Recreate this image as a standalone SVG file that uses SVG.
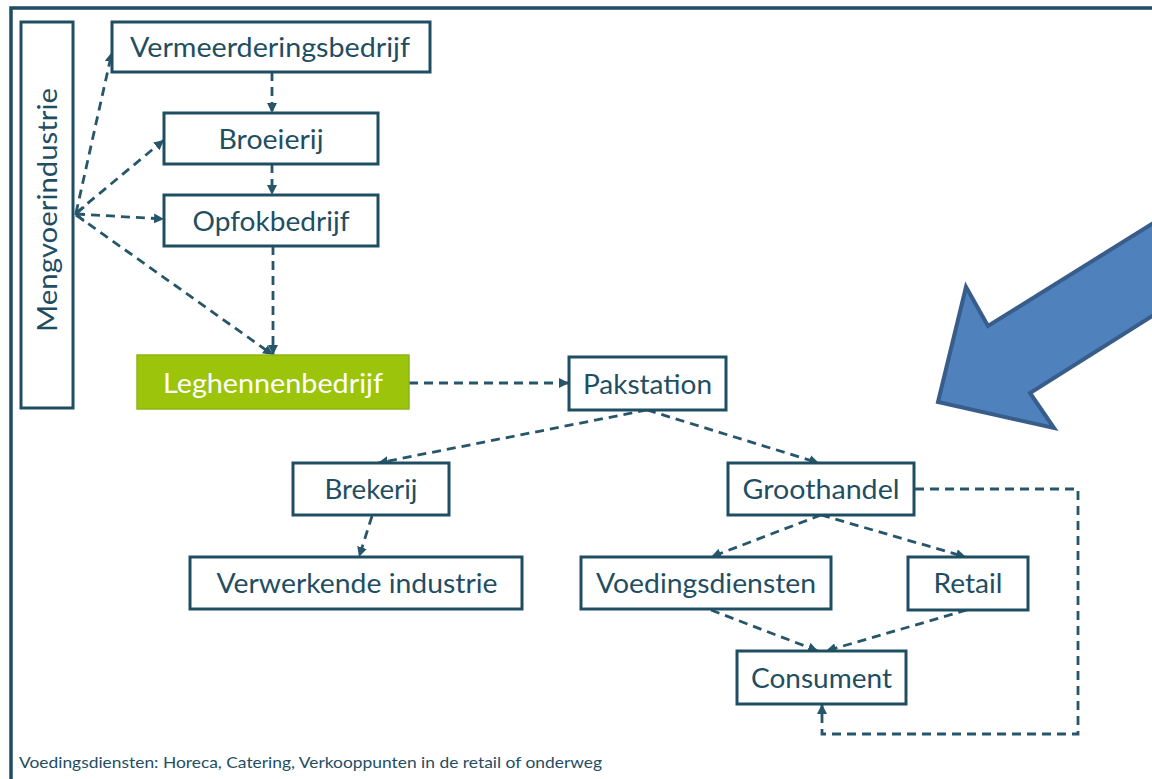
<svg xmlns="http://www.w3.org/2000/svg" width="1152" height="779" viewBox="0 0 1152 779">
<style>
.box{fill:#ffffff;stroke:#1f4e63;stroke-width:3}
.lbl{font-family:Lato,"Open Sans","Liberation Sans",sans-serif;font-size:27px;fill:#1f4e63;text-anchor:middle}
.con{fill:none;stroke:#27566b;stroke-width:2.8;stroke-dasharray:9 6}
.foot{font-family:Lato,"Open Sans","Liberation Sans",sans-serif;font-size:15px;fill:#1f4e63}
</style>
<defs>
<marker id="ah" viewBox="0 0 10 10" refX="10" refY="5" markerWidth="10" markerHeight="10" markerUnits="userSpaceOnUse" orient="auto">
<path d="M0,0 L10,5 L0,10 z" fill="#27566b"/>
</marker>
</defs>
<rect x="0" y="0" width="1152" height="779" fill="#ffffff"/>
<rect x="11" y="8" width="1200" height="900" fill="none" stroke="#1f4e63" stroke-width="3.5"/>

<g id="blue-arrow">
<polygon points="938,402 966,287 988,326 1200,194 1200,286 1030,393 1054,428" fill="#4f81bd" stroke="#385d8a" stroke-width="4" stroke-linejoin="miter"/>
</g>

<g id="connectors">
<line class="con" x1="76" y1="213" x2="112" y2="52" marker-end="url(#ah)"/>
<line class="con" x1="76" y1="213" x2="164" y2="140" marker-end="url(#ah)"/>
<line class="con" x1="76" y1="214" x2="164" y2="219" marker-end="url(#ah)"/>
<line class="con" x1="76" y1="215" x2="273" y2="355" marker-end="url(#ah)"/>
<polyline points="84,207 76,214 84,221" fill="none" stroke="#27566b" stroke-width="2.5"/>
<line class="con" x1="272" y1="72" x2="272" y2="113" marker-end="url(#ah)"/>
<line class="con" x1="272" y1="164" x2="272" y2="195" marker-end="url(#ah)"/>
<line class="con" x1="273" y1="246" x2="273" y2="355" marker-end="url(#ah)"/>
<line class="con" x1="409" y1="383" x2="569" y2="383" marker-end="url(#ah)"/>
<line class="con" x1="647" y1="410" x2="378" y2="463" marker-end="url(#ah)"/>
<line class="con" x1="647" y1="410" x2="819" y2="463" marker-end="url(#ah)"/>
<line class="con" x1="372" y1="516" x2="359" y2="557" marker-end="url(#ah)"/>
<line class="con" x1="821" y1="515" x2="711" y2="557" marker-end="url(#ah)"/>
<line class="con" x1="821" y1="515" x2="966" y2="557" marker-end="url(#ah)"/>
<line class="con" x1="711" y1="610" x2="818" y2="651" marker-end="url(#ah)"/>
<line class="con" x1="967" y1="610" x2="826" y2="651" marker-end="url(#ah)"/>
<polyline class="con" points="915,489 1078,489 1078,734 822,734 822,704" marker-end="url(#ah)"/>
</g>

<g id="mengvoerindustrie">
<rect class="box" x="21" y="22" width="52" height="386"/>
<text class="lbl" transform="translate(57,210) rotate(-90)" x="0" y="0" textLength="244" lengthAdjust="spacingAndGlyphs">Mengvoerindustrie</text>
</g>
<g id="vermeerderingsbedrijf">
<rect class="box" x="112" y="22" width="318" height="50"/>
<text class="lbl" x="270" y="56.5" textLength="280" lengthAdjust="spacingAndGlyphs">Vermeerderingsbedrijf</text>
</g>
<g id="broeierij">
<rect class="box" x="164" y="113" width="214" height="51"/>
<text class="lbl" x="271" y="148.5" textLength="105" lengthAdjust="spacingAndGlyphs">Broeierij</text>
</g>
<g id="opfokbedrijf">
<rect class="box" x="164" y="195" width="214" height="51"/>
<text class="lbl" x="271" y="230.5" textLength="157" lengthAdjust="spacingAndGlyphs">Opfokbedrijf</text>
</g>
<g id="leghennenbedrijf">
<rect x="137" y="355" width="272" height="54" fill="#9bc40a" stroke="#8db51a" stroke-width="1.5"/>
<text class="lbl" x="273" y="392.5" style="fill:#ffffff" textLength="220" lengthAdjust="spacingAndGlyphs">Leghennenbedrijf</text>
</g>
<g id="pakstation">
<rect class="box" x="569" y="357" width="157" height="53"/>
<text class="lbl" x="647.5" y="393.5" textLength="129" lengthAdjust="spacingAndGlyphs">Pakstation</text>
</g>
<g id="brekerij">
<rect class="box" x="293" y="463" width="156" height="52"/>
<text class="lbl" x="371" y="499" textLength="93" lengthAdjust="spacingAndGlyphs">Brekerij</text>
</g>
<g id="verwerkende-industrie">
<rect class="box" x="190" y="557" width="332" height="52"/>
<text class="lbl" x="357" y="593" textLength="281" lengthAdjust="spacingAndGlyphs">Verwerkende industrie</text>
</g>
<g id="groothandel">
<rect class="box" x="728" y="463" width="186" height="52"/>
<text class="lbl" x="821" y="499" textLength="157" lengthAdjust="spacingAndGlyphs">Groothandel</text>
</g>
<g id="voedingsdiensten">
<rect class="box" x="581" y="557" width="250" height="52"/>
<text class="lbl" x="706" y="593" textLength="220" lengthAdjust="spacingAndGlyphs">Voedingsdiensten</text>
</g>
<g id="retail">
<rect class="box" x="908" y="557" width="120" height="53"/>
<text class="lbl" x="968" y="593" textLength="69" lengthAdjust="spacingAndGlyphs">Retail</text>
</g>
<g id="consument">
<rect class="box" x="737" y="651" width="169" height="53"/>
<text class="lbl" x="821.5" y="687.5" textLength="141" lengthAdjust="spacingAndGlyphs">Consument</text>
</g>
<g id="footer">
<text class="foot" x="19" y="768" textLength="583" lengthAdjust="spacingAndGlyphs">Voedingsdiensten: Horeca, Catering, Verkooppunten in de retail of onderweg</text>
</g>
</svg>
